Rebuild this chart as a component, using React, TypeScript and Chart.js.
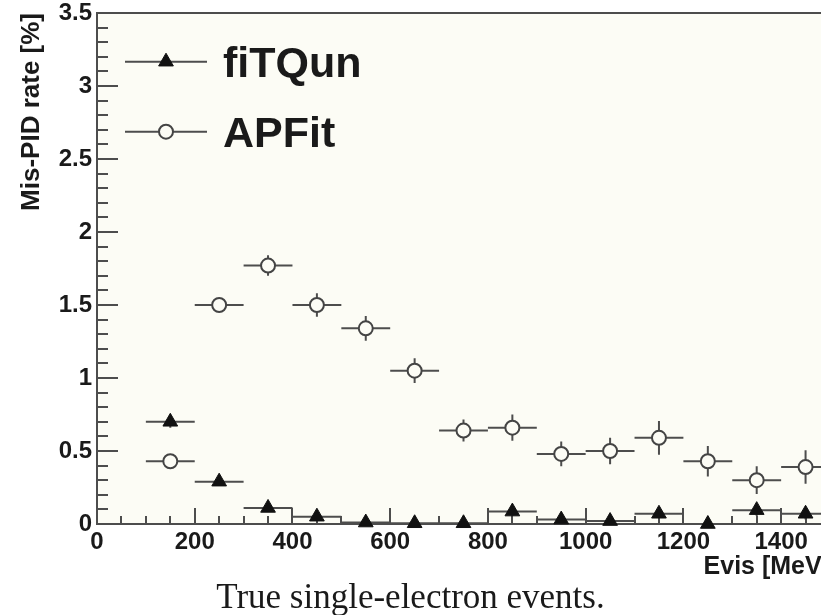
import { useEffect, useRef } from 'react';
import { Chart, registerables } from 'chart.js';
import { drawPoint } from 'chart.js/helpers';

Chart.register(...registerables);

// Evis bins (MeV): 100 MeV wide, centred at 150 … 1450
const BIN_CENTERS = [150, 250, 350, 450, 550, 650, 750, 850, 950, 1050, 1150, 1250, 1350, 1450];
const BIN_HALF_WIDTH = 50;

// Mis-PID rate [%] for true single-electron events
const FITQUN_RATE = [0.70, 0.29, 0.11, 0.05, 0.01, 0.005, 0.005, 0.085, 0.03, 0.02, 0.07, 0.0, 0.095, 0.07];
const FITQUN_ERR = [0.04, 0.03, 0.02, 0.015, 0.01, 0.01, 0.01, 0.03, 0.02, 0.02, 0.03, 0.01, 0.04, 0.04];
const APFIT_RATE = [0.43, 1.50, 1.77, 1.50, 1.34, 1.05, 0.64, 0.66, 0.48, 0.50, 0.59, 0.43, 0.30, 0.39];
const APFIT_ERR = [0.04, 0.045, 0.07, 0.08, 0.085, 0.085, 0.075, 0.09, 0.085, 0.09, 0.115, 0.105, 0.095, 0.115];

// Axis ranges and tick labels
const X_MIN = 0;
const X_MAX = 1500;
const X_TICKS = [0, 200, 400, 600, 800, 1000, 1200, 1400];
const Y_MIN = 0;
const Y_MAX = 3.5;
const Y_TICKS = [0, 0.5, 1, 1.5, 2, 2.5, 3, 3.5];

const AXIS_COLOR = '#4d4d4d';
const TEXT_COLOR = '#1a1a1a';
const PLOT_BG = '#fcfcf5';
const FONT = '"Liberation Sans", Arial, sans-serif';

const CANVAS_W = 860;
const CANVAS_H = 615;

// Page background plus the cream plot frame
const backgroundPlugin = {
  id: 'plotBackground',
  beforeDraw(chart: any) {
    const { ctx, chartArea: a } = chart;
    ctx.save();
    ctx.fillStyle = '#ffffff';
    ctx.fillRect(0, 0, chart.width, chart.height);
    ctx.fillStyle = PLOT_BG;
    ctx.fillRect(a.left, a.top, a.right - a.left, a.bottom - a.top);
    ctx.restore();
  },
};

// ROOT-style frame: top/right edges and inward tick marks
const frameTicksPlugin = {
  id: 'frameTicks',
  beforeDatasetsDraw(chart: any) {
    const { ctx, chartArea: a, scales } = chart;
    const xs = scales.x;
    const ys = scales.y;
    ctx.save();
    ctx.strokeStyle = AXIS_COLOR;
    ctx.lineWidth = 2;
    ctx.beginPath();
    ctx.moveTo(a.left - 1, a.top);
    ctx.lineTo(a.right, a.top);
    ctx.lineTo(a.right, a.bottom);
    // x: minor every 50, major every 200
    for (let i = 0; i * 50 <= X_MAX; i++) {
      const v = X_MIN + i * 50;
      const px = Math.round(xs.getPixelForValue(v));
      const len = v % 200 === 0 ? 16 : 8;
      ctx.moveTo(px, a.bottom);
      ctx.lineTo(px, a.bottom - len);
    }
    // y: minor every 0.1, major every 0.5
    for (let i = 0; i <= 35; i++) {
      const v = Y_MIN + i * 0.1;
      const py = Math.round(ys.getPixelForValue(v));
      const len = i % 5 === 0 ? 21 : 11;
      ctx.moveTo(a.left, py);
      ctx.lineTo(a.left + len, py);
    }
    ctx.stroke();
    ctx.restore();
  },
};

// Horizontal bin-width bars and vertical statistical error bars
const errorBarPlugin = {
  id: 'errorBars',
  beforeDatasetsDraw(chart: any) {
    const { ctx, scales } = chart;
    const xs = scales.x;
    const ys = scales.y;
    ctx.save();
    ctx.strokeStyle = AXIS_COLOR;
    ctx.lineWidth = 2;
    chart.data.datasets.forEach((ds: any) => {
      ds.data.forEach((p: any, i: number) => {
        const px = xs.getPixelForValue(p.x);
        const py = ys.getPixelForValue(p.y);
        const xl = xs.getPixelForValue(p.x - ds.binHalfWidth);
        const xr = xs.getPixelForValue(p.x + ds.binHalfWidth);
        const err = ds.errorY[i];
        const yt = ys.getPixelForValue(p.y + err);
        const yb = ys.getPixelForValue(Math.max(p.y - err, Y_MIN));
        ctx.beginPath();
        ctx.moveTo(xl, py);
        ctx.lineTo(xr, py);
        ctx.moveTo(px, yt);
        ctx.lineTo(px, yb);
        ctx.stroke();
      });
    });
    ctx.restore();
  },
};

// Legend inside the frame: line with marker, then the label
const legendPlugin = {
  id: 'frameLegend',
  afterDraw(chart: any) {
    const { ctx, chartArea: a } = chart;
    chart.data.datasets.forEach((ds: any, i: number) => {
      const cy = a.top + 48.7 + i * 70;
      const x0 = a.left + 28;
      const x1 = a.left + 110;
      const xm = (x0 + x1) / 2;
      ctx.save();
      ctx.strokeStyle = AXIS_COLOR;
      ctx.lineWidth = 2;
      ctx.beginPath();
      ctx.moveTo(x0, cy);
      ctx.lineTo(x1, cy);
      ctx.stroke();
      ctx.fillStyle = ds.pointBackgroundColor;
      ctx.strokeStyle = ds.pointBorderColor;
      ctx.lineWidth = ds.pointBorderWidth;
      drawPoint(ctx, { pointStyle: ds.pointStyle, radius: ds.pointRadius, rotation: 0, borderWidth: ds.pointBorderWidth }, xm, cy);
      ctx.fillStyle = TEXT_COLOR;
      ctx.font = `bold 43px ${FONT}`;
      ctx.textAlign = 'left';
      ctx.textBaseline = 'alphabetic';
      ctx.fillText(ds.label, a.left + 126, cy + 15.5);
      ctx.restore();
    });
  },
};

export default function App() {
  const canvasRef = useRef<HTMLCanvasElement | null>(null);

  useEffect(() => {
    if (!canvasRef.current) return;
    const chart = new Chart(canvasRef.current, {
      type: 'scatter',
      data: {
        datasets: [
          {
            label: 'fiTQun',
            data: BIN_CENTERS.map((x, i) => ({ x, y: FITQUN_RATE[i] })),
            errorY: FITQUN_ERR,
            binHalfWidth: BIN_HALF_WIDTH,
            pointStyle: 'triangle',
            pointRadius: 8.5,
            pointHoverRadius: 8.5,
            pointBackgroundColor: '#111111',
            pointBorderColor: '#111111',
            pointBorderWidth: 1,
            clip: false,
          } as any,
          {
            label: 'APFit',
            data: BIN_CENTERS.map((x, i) => ({ x, y: APFIT_RATE[i] })),
            errorY: APFIT_ERR,
            binHalfWidth: BIN_HALF_WIDTH,
            pointStyle: 'circle',
            pointRadius: 7,
            pointHoverRadius: 7,
            pointBackgroundColor: PLOT_BG,
            pointBorderColor: '#444444',
            pointBorderWidth: 2,
            clip: false,
          } as any,
        ],
      },
      options: {
        responsive: false,
        animation: false,
        devicePixelRatio: 1,
        events: [],
        layout: { padding: { top: 13, right: 30, left: 0, bottom: 0 } },
        plugins: {
          legend: { display: false },
          title: { display: false },
          tooltip: { enabled: false },
        },
        scales: {
          x: {
            type: 'linear',
            min: X_MIN,
            max: X_MAX,
            afterBuildTicks(s: any) {
              s.ticks = X_TICKS.map((v) => ({ value: v }));
            },
            afterFit(s: any) {
              s.height = 91;
              s.paddingLeft = 0;
              s.paddingRight = 0;
            },
            grid: { display: false, drawTicks: false },
            border: { display: true, color: AXIS_COLOR, width: 2 },
            ticks: {
              autoSkip: false,
              maxRotation: 0,
              padding: 4,
              color: TEXT_COLOR,
              font: { family: FONT, size: 24, weight: 'bold' },
              callback: (v: any) => String(v),
            },
            title: {
              display: true,
              text: 'Evis [MeV]',
              align: 'end',
              color: TEXT_COLOR,
              font: { family: FONT, size: 25, weight: 'bold' },
              padding: { top: 0, bottom: 33 },
            },
          },
          y: {
            type: 'linear',
            min: Y_MIN,
            max: Y_MAX,
            afterBuildTicks(s: any) {
              s.ticks = Y_TICKS.map((v) => ({ value: v }));
            },
            afterFit(s: any) {
              s.width = 97;
              s.paddingTop = 0;
              s.paddingBottom = 0;
            },
            grid: { display: false, drawTicks: false },
            border: { display: true, color: AXIS_COLOR, width: 2 },
            ticks: {
              padding: 5,
              color: TEXT_COLOR,
              font: { family: FONT, size: 24, weight: 'bold' },
              callback: (v: any) => String(v),
            },
            title: {
              display: true,
              text: 'Mis-PID rate [%]',
              align: 'end',
              color: TEXT_COLOR,
              font: { family: FONT, size: 26, weight: 'bold' },
              padding: { top: 16, bottom: 0 },
            },
          },
        },
      } as any,
      plugins: [backgroundPlugin, frameTicksPlugin, errorBarPlugin, legendPlugin],
    });
    return () => chart.destroy();
  }, []);

  return (
    <div
      style={{
        position: 'fixed',
        left: 0,
        top: 0,
        width: 821,
        height: 615,
        overflow: 'hidden',
        background: '#ffffff',
      }}
    >
      <canvas
        ref={canvasRef}
        width={CANVAS_W}
        height={CANVAS_H}
        style={{ position: 'absolute', left: 0, top: 0, width: CANVAS_W, height: CANVAS_H }}
      />
      <div
        style={{
          position: 'absolute',
          left: 0,
          top: 577,
          width: 821,
          textAlign: 'center',
          fontFamily: '"Liberation Serif", "Times New Roman", serif',
          fontSize: 35,
          lineHeight: '40px',
          color: TEXT_COLOR,
          whiteSpace: 'nowrap',
        }}
      >
        True single-electron events.
      </div>
    </div>
  );
}
